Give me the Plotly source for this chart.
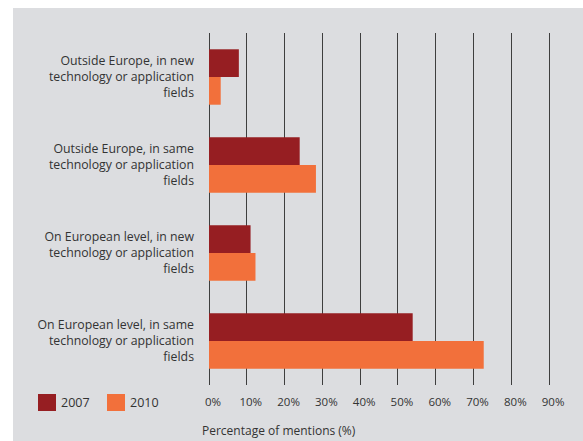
import plotly.graph_objects as go

categories = [
    "Outside Europe, in new<br>technology or application<br>fields",
    "Outside Europe, in same<br>technology or application<br>fields",
    "On European level, in new<br>technology or application<br>fields",
    "On European level, in same<br>technology or application<br>fields",
]
values_2007 = [7.9, 24.0, 11.0, 53.9]
values_2010 = [3.1, 28.3, 12.3, 72.7]
series_names = ["2007", "2010"]
tick_vals = [0, 10, 20, 30, 40, 50, 60, 70, 80, 90]
tick_text = ["0%", "10%", "20%", "30%", "40%", "50%", "60%", "70%", "80%", "90%"]

C2007 = "#961e22"
C2010 = "#f2703b"
BG = "#dcdde0"
TXT = "#333333"
FONT = "Open Sans, Lato, sans-serif"

W, H = 583, 441
ML, MR, MT, MB = 209, 15, 33, 56
PW, PH = W - ML - MR, H - MT - MB

def px_x(p):
    return (p - ML) / PW

def px_y(p):
    return (H - MB - p) / PH

fig = go.Figure()
fig.add_trace(go.Bar(y=categories, x=values_2007, orientation="h", name=series_names[0],
                     marker=dict(color=C2007, line=dict(width=0)), showlegend=False))
fig.add_trace(go.Bar(y=categories, x=values_2010, orientation="h", name=series_names[1],
                     marker=dict(color=C2010, line=dict(width=0)), showlegend=False))

shapes = [
    dict(type="rect", xref="paper", yref="paper", x0=px_x(13), x1=px_x(590),
         y0=px_y(450), y1=px_y(8), fillcolor=BG, line=dict(width=0), layer="below"),
    dict(type="rect", xref="paper", yref="paper", x0=px_x(38), x1=px_x(56),
         y0=px_y(411), y1=px_y(394), fillcolor=C2007, line=dict(width=0)),
    dict(type="rect", xref="paper", yref="paper", x0=px_x(107), x1=px_x(125),
         y0=px_y(411), y1=px_y(394), fillcolor=C2010, line=dict(width=0)),
]
annotations = [
    dict(text=series_names[0], xref="paper", yref="paper", x=px_x(59), y=px_y(402.5),
         xanchor="left", yanchor="middle", showarrow=False, font=dict(size=12.5, color=TXT, family=FONT)),
    dict(text=series_names[1], xref="paper", yref="paper", x=px_x(128), y=px_y(402.5),
         xanchor="left", yanchor="middle", showarrow=False, font=dict(size=12.5, color=TXT, family=FONT)),
    dict(text="Percentage of mentions (%)", xref="paper", yref="paper", x=px_x(200), y=px_y(430),
         xanchor="left", yanchor="middle", showarrow=False, font=dict(size=12, color=TXT, family=FONT)),
]

fig.update_layout(
    width=W, height=H,
    margin=dict(l=ML, r=MR, t=MT, b=MB, autoexpand=False),
    paper_bgcolor="white", plot_bgcolor="rgba(0,0,0,0)",
    barmode="group", bargap=0.37, bargroupgap=0,
    font=dict(family=FONT, color=TXT, size=12),
    shapes=shapes, annotations=annotations,
    showlegend=False,
    xaxis=dict(range=[0, 95], tickvals=tick_vals, ticktext=tick_text,
               showgrid=True, gridcolor="#3e3e3e", gridwidth=1.3,
               zeroline=True, zerolinecolor="#3e3e3e", zerolinewidth=1.3,
               showline=False, ticks="", ticklabelstandoff=8, ticklabelshift=4,
               tickfont=dict(size=11.5, color=TXT, family=FONT), fixedrange=True),
    yaxis=dict(range=[3.5, -0.5], showgrid=False, zeroline=False, showline=False,
               ticks="", ticklabelstandoff=14,
               tickfont=dict(size=12.3, color=TXT, family=FONT), fixedrange=True),
)

fig.write_html("out.html", config={"displayModeBar": False},
               post_script="document.body.style.margin='0';document.body.style.padding='0';")
